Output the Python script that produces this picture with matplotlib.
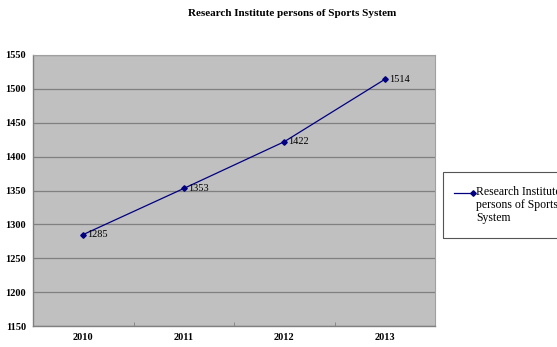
import matplotlib.pyplot as plt
from matplotlib.patches import Rectangle

# values
years = ["2010", "2011", "2012", "2013"]
persons = [1285, 1353, 1422, 1514]
y_ticks = [1150, 1200, 1250, 1300, 1350, 1400, 1450, 1500, 1550]
series_name = "Research Institute\npersons of Sports\nSystem"

plt.rcParams["font.family"] = ["Liberation Serif", "DejaVu Serif"]

fig = plt.figure(figsize=(5.57, 3.47), dpi=100)
ax = fig.add_axes([33 / 557, 1 - 326 / 347, 402 / 557, 271 / 347])
ax.set_facecolor("#c0c0c0")

xs = list(range(len(years)))
ax.plot(xs, persons, color="#000080", lw=0.9, marker="D", ms=2.8, label=series_name)

#labels next to each point
for x, v in zip(xs, persons):
    ax.annotate(str(v), (x, v), textcoords="offset points", xytext=(3, 0),
                ha="left", va="center", fontsize=7.5)

ax.set_xlim(-0.5, len(years) - 0.5)
ax.set_ylim(y_ticks[0], y_ticks[-1])
ax.set_yticks(y_ticks)
ax.set_xticks(xs)
ax.set_xticklabels(years, fontweight="bold", fontsize=7.5)
ax.set_yticklabels([str(t) for t in y_ticks], fontweight="bold", fontsize=7.5)
ax.tick_params(axis="x", length=0, pad=5)
ax.tick_params(axis="y", length=0, pad=5)
ax.set_xticks([0.5, 1.5, 2.5], minor=True)
ax.tick_params(axis="x", which="minor", direction="in", length=3, color="#808080")

ax.yaxis.grid(True, color="#808080", lw=0.9)
ax.set_axisbelow(True)
for side in ["top", "right"]:
    ax.spines[side].set_color("#a0a0a0")
    ax.spines[side].set_linewidth(0.8)
for side in ["left", "bottom"]:
    ax.spines[side].set_color("#808080")
    ax.spines[side].set_linewidth(1.0)

fig.text(292 / 557, 1 - 14 / 347, "Research Institute persons of Sports System",
         ha="center", va="center", fontsize=8, fontweight="bold")

# legend box on the right, running off the edge like the original
fig.patches.append(Rectangle((443 / 557, 1 - 238 / 347), 130 / 557, 66 / 347,
                             transform=fig.transFigure, fill=False,
                             edgecolor="#555555", lw=0.8))
fig.add_artist(plt.Line2D([454 / 557, 473 / 557], [1 - 193 / 347] * 2,
                          transform=fig.transFigure, color="#000080", lw=0.9,
                          marker="D", ms=2.8, markevery=[1]))
fig.text(476 / 557, 1 - 186 / 347, series_name, ha="left", va="top",
         fontsize=8.5, linespacing=1.1)

fig.savefig("out.png", dpi=100)
